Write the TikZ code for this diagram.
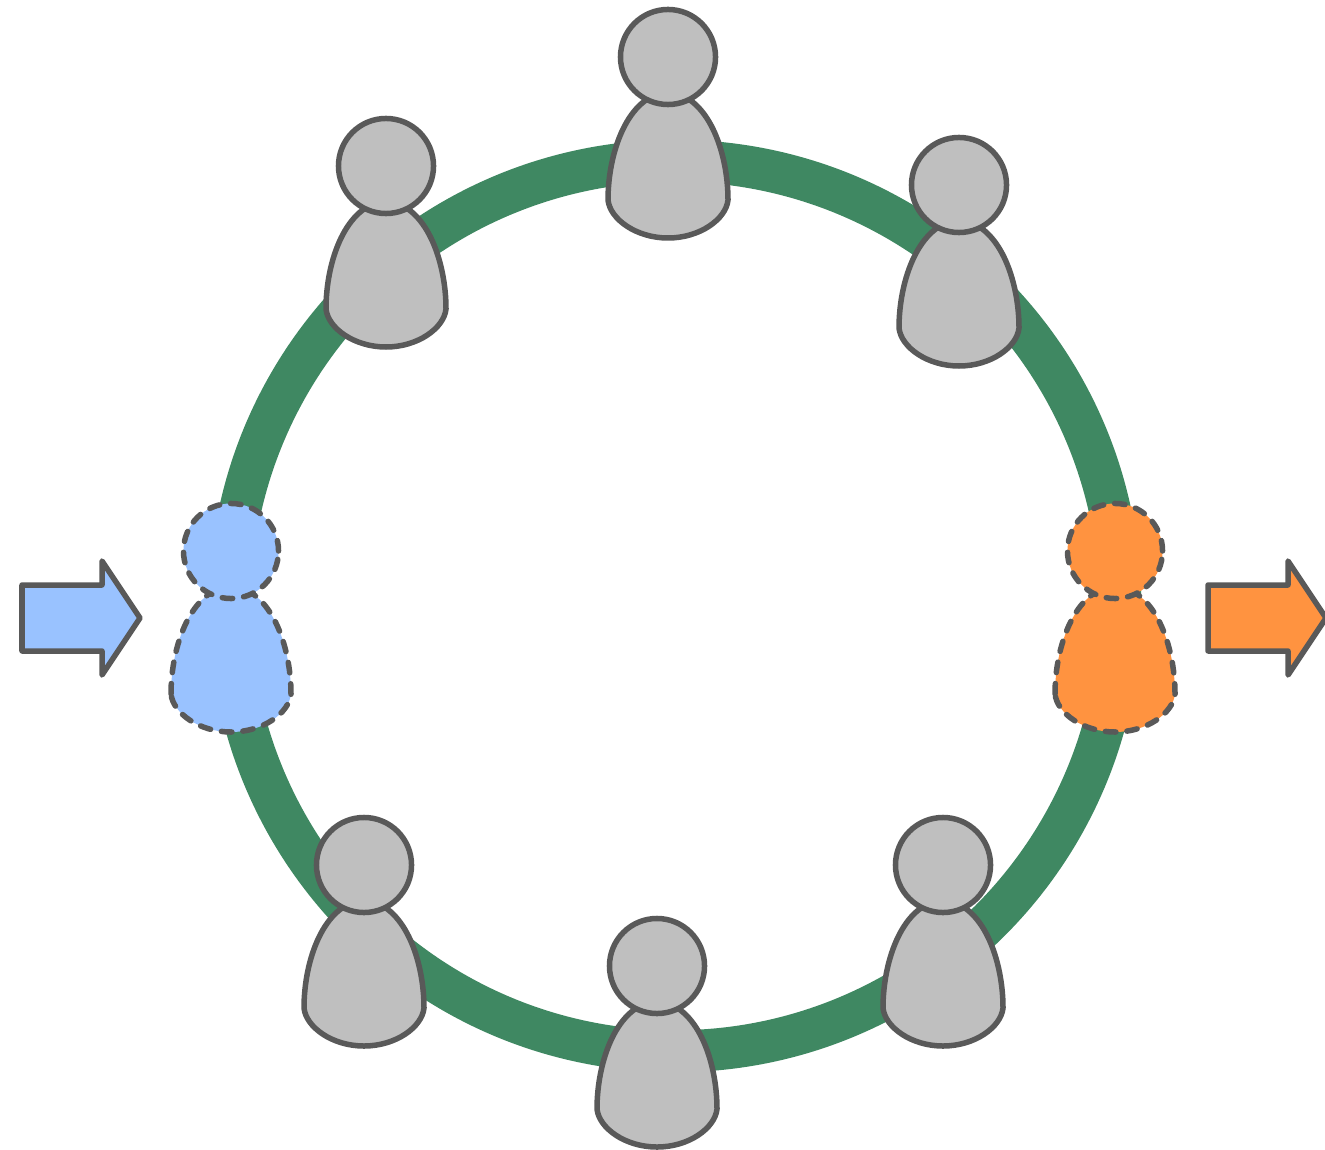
\documentclass[tikz,border=0pt]{standalone}
\usepackage{xcolor}
\usetikzlibrary{positioning}
\definecolor{ringgreen}{HTML}{3F8862}
\definecolor{edgegray}{HTML}{595959}
\definecolor{bodygray}{HTML}{BFBFBF}
\definecolor{inblue}{HTML}{99C2FF}
\definecolor{outorange}{HTML}{FF9340}
\tikzset{
  outline/.style={draw=edgegray,line width=0.055cm,line join=round},
  grayperson/.style={outline,fill=bodygray},
  blueperson/.style={outline,fill=inblue,line cap=round,dash pattern=on 0.105cm off 0.11cm},
  orangeperson/.style={outline,fill=outorange,line cap=round,dash pattern=on 0.105cm off 0.11cm},
  bluearrow/.style={outline,fill=inblue},
  orangearrow/.style={outline,fill=outorange},
  pics/person/.style={code={
    \path[#1] (-60,143) .. controls (-60,95) and (-40,38) .. (0,35)
      .. controls (40,38) and (60,95) .. (60,143)
      .. controls (58,162) and (32,181) .. (0,181)
      .. controls (-32,181) and (-58,162) .. cycle;
    \node[#1,circle,inner sep=0pt,minimum size=0.95cm] (-head) at (0,0) {};
  }},
  pics/flow/.style={code={
    \path[#1] (0,-33) -- (80,-33) -- (80,-57) -- (118,0) -- (80,57) -- (80,33) -- (0,33) -- cycle;
  }}
}
\begin{document}
\begin{tikzpicture}[x=0.01cm,y=-0.01cm]
  \useasboundingbox (0,0) rectangle (1325,1149);
  \node[circle,draw=ringgreen,line width=0.42cm,inner sep=0pt,minimum size=8.9cm] (ring) at (675,606) {};
  % people round the ring
  \pic (top) at (668,57) {person=grayperson};
  \pic (topleft) at (386,166) {person=grayperson};
  \pic (topright) at (959,185) {person=grayperson};
  \pic (left) at (231,551) {person=blueperson};
  \pic (right) at (1115,551) {person=orangeperson};
  \pic (botleft) at (364,865) {person=grayperson};
  \pic (botright) at (943,865) {person=grayperson};
  \pic (bot) at (657,966) {person=grayperson};
  % way in and way out
  \pic (in) at (22,618) {flow=bluearrow};
  \pic (out) at (1208,618) {flow=orangearrow};
\end{tikzpicture}
\end{document}
